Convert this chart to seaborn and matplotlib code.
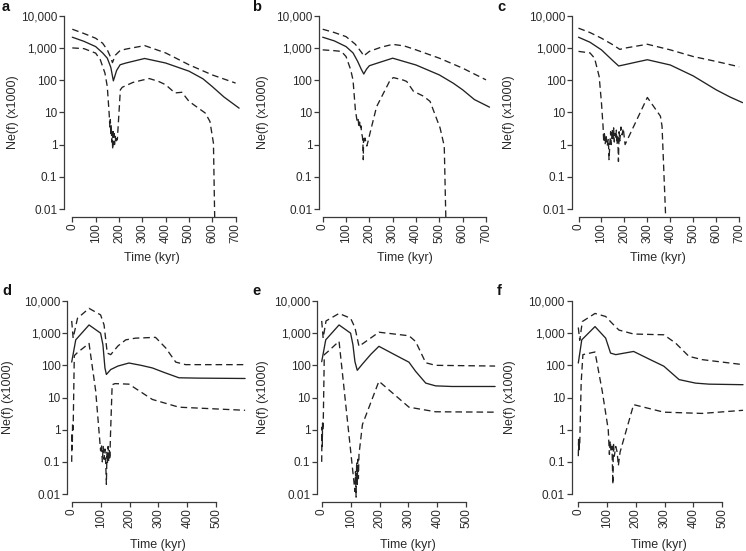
import numpy as np
import pandas as pd
import matplotlib
matplotlib.use("Agg")
import matplotlib.pyplot as plt
from matplotlib.ticker import FixedLocator, NullLocator, FixedFormatter
import seaborn as sns

# ---------------- data (Ne(f) x1000 vs time in kyr) ----------------
a_mid_t = [0, 50, 100, 130, 150, 165, 176, 190, 205, 230, 310, 400, 500, 560, 600, 650, 715]
a_mid = [2150, 1600, 1100, 700, 480, 250, 95, 200, 300, 340, 470, 340, 190, 110, 63, 30, 13.5]
a_hi_t = [0, 50, 100, 130, 150, 165, 172, 185, 205, 230, 310, 400, 500, 600, 700]
a_hi = [3800, 2800, 2000, 1400, 870, 500, 350, 600, 830, 920, 1180, 700, 300, 145, 81]
a_lo_t = [0, 50, 100, 120, 140, 150, 158, 161, 163, 165, 167, 169, 171, 173, 175, 177, 179,
          181, 184, 187, 190, 193, 206, 214, 260, 300, 330, 370, 400, 440, 470, 500, 570,
          590, 605, 612]
a_lo = [1000, 950, 690, 430, 165, 63, 9, 3.5, 6, 2, 4, 1.2, 2.5, 0.7, 3, 1.0, 2.2,
        1.0, 1.8, 1.1, 1.5, 1.4, 50, 60, 85, 100, 112, 91, 72, 40, 42, 22, 9.5,
        5.2, 1.1, 0.001]

b_mid_t = [0, 50, 100, 130, 150, 165, 176, 188, 200, 230, 300, 400, 500, 560, 600, 650, 715]
b_mid = [2150, 1650, 1100, 700, 380, 220, 155, 220, 280, 330, 480, 295, 145, 80, 50, 25, 14.5]
b_hi_t = [0, 50, 100, 140, 168, 175, 200, 250, 300, 350, 400, 500, 600, 700]
b_hi = [3800, 3000, 2240, 1300, 700, 560, 780, 1050, 1290, 1150, 870, 480, 235, 102]
b_lo_t = [0, 50, 80, 100, 120, 130, 140, 148, 152, 155, 158, 161, 164, 167, 170, 172, 174,
          175, 178, 181, 185, 189, 195, 203, 231, 289, 303, 346, 360, 389, 431, 460, 503,
          521, 530]
b_lo = [870, 820, 780, 540, 210, 100, 12, 5, 6, 3.5, 5, 3, 3.8, 2.2, 1.8, 1.3, 0.34,
        1.5, 1.1, 1.6, 1.2, 0.9, 1.3, 2.3, 15, 100, 120, 100, 91, 45, 32, 22, 3.3,
        0.9, 0.001]

c_mid_t = [0, 50, 100, 150, 175, 200, 250, 300, 400, 500, 600, 660, 715]
c_mid = [2150, 1500, 870, 400, 275, 300, 360, 430, 295, 135, 50, 30, 20]
c_hi_t = [0, 50, 100, 150, 180, 200, 300, 400, 500, 600, 700]
c_hi = [4100, 3000, 2000, 1250, 900, 980, 1300, 870, 540, 380, 260]
c_lo_t = [0, 50, 70, 90, 100, 107, 110, 113, 116, 120, 125, 130, 133, 137, 140, 143, 147,
          150, 153, 156, 159, 162, 165, 168, 171, 174, 177, 180, 185, 190, 195, 203, 300,
          357, 364, 384]
c_lo = [780, 700, 480, 130, 20, 3.7, 1.2, 2.5, 1.0, 2.0, 0.9, 1.5, 0.34, 1.2, 2.5, 1.0, 3.0,
        1.4, 3.3, 1.2, 2.2, 1.5, 2.8, 1.0, 2.0, 0.3, 2.5, 1.3, 3.5, 2.0, 3.2, 1.0, 29,
        7.6, 3.7, 0.001]

d_mid_t = [0, 14, 60, 100, 108, 115, 120, 135, 160, 198, 240, 279, 320, 371, 440, 600]
d_mid = [126, 620, 1800, 1000, 440, 83, 52, 74, 95, 118, 100, 83, 60, 41, 40, 39]
d_hi_t = [0, 5, 20, 60, 100, 112, 123, 135, 160, 187, 221, 290, 325, 360, 394, 600]
d_hi = [2400, 700, 2900, 5900, 3700, 1800, 240, 215, 400, 620, 700, 740, 350, 126, 105, 105]
d_lo_t = [0, 1, 2, 3, 5, 9, 20, 60, 83, 100, 103, 106, 109, 112, 115, 118, 120, 122, 124,
          126, 128, 130, 132, 134, 140, 150, 198, 279, 371, 600]
d_lo = [0.1, 0.8, 0.25, 1.5, 1.0, 200, 250, 480, 16, 0.22, 0.35, 0.1, 0.3, 0.12, 0.25, 0.08,
        0.02, 0.2, 0.09, 0.3, 0.1, 0.25, 0.12, 0.6, 25, 27, 26, 8.7, 5, 4]

e_mid_t = [0, 14, 60, 100, 108, 115, 123, 141, 170, 198, 250, 302, 325, 360, 394, 450, 600]
e_mid = [130, 620, 1800, 1000, 440, 130, 70, 110, 220, 390, 220, 125, 65, 28, 23, 22, 22]
e_hi_t = [0, 5, 15, 60, 100, 115, 129, 198, 302, 325, 360, 394, 600]
e_hi = [2400, 700, 2400, 4100, 2900, 1500, 390, 1070, 830, 550, 120, 100, 95]
e_lo_t = [0, 1, 2, 3, 5, 9, 20, 60, 115, 117, 119, 121, 123, 125, 127, 129, 141, 198, 302,
          394, 600]
e_lo = [0.1, 1.2, 0.3, 1.6, 1.0, 215, 260, 560, 0.012, 0.05, 0.008, 0.1, 0.02, 0.12, 0.03,
        0.17, 1.45, 32, 5, 3.6, 3.5]

f_mid_t = [0, 12, 58, 95, 112, 130, 192, 250, 297, 350, 407, 454, 572]
f_mid = [118, 620, 1600, 700, 240, 215, 270, 150, 94, 36, 28, 26, 25]
f_hi_t = [0, 5, 14, 58, 95, 118, 141, 192, 297, 338, 384, 431, 572]
f_hi = [1500, 600, 2300, 4100, 3300, 2000, 1250, 940, 890, 490, 190, 150, 105]
f_lo_t = [0, 1, 2, 3, 5, 10, 16, 58, 83, 104, 108, 111, 114, 117, 120, 122, 125, 130, 135,
          139, 145, 192, 297, 430, 572]
f_lo = [0.15, 0.5, 0.2, 0.4, 0.35, 30, 215, 260, 16, 1.0, 0.17, 0.45, 0.2, 0.3, 0.02, 0.4,
        0.15, 0.3, 0.2, 0.075, 0.2, 6, 3.5, 3.2, 4]

panel_letters = ["a", "b", "c", "d", "e", "f"]
y_ticks = [0.01, 0.1, 1, 10, 100, 1000, 10000]
y_tick_labels = ["0.01", "0.1", "1", "10", "100", "1,000", "10,000"]
x_ticks_top = [0, 100, 200, 300, 400, 500, 600, 700]
x_ticks_bottom = [0, 100, 200, 300, 400, 500]
y_label = "Ne(f) (x1000)"
x_label = "Time (kyr)"

# ---------------- style ----------------
sns.set_style("ticks")
plt.rcParams["font.family"] = ["Liberation Sans", "DejaVu Sans"]
plt.rcParams["lines.dashed_pattern"] = [5.0, 3.0]

W, H = 746, 551
fig = plt.figure(figsize=(W / 100, H / 100), dpi=100)
fig.patch.set_facecolor("white")

LINE = "#222222"
AX = "#3a3a3a"
TXT = "#2a2a2a"

# layout: (left_px, x0_px, px per kyr, right xlim, top_px, bottom_px, ylabel x px, letter x, letter y)
layout = [
    (64.0, 72.3, 0.2333, 722, 8.0, 216.7, 13, 2, 0),
    (319.0, 322.7, 0.2333, 722, 8.0, 216.7, 263, 252, 0),
    (572.3, 578.5, 0.2295, 716, 8.0, 216.7, 509, 497, 0),
    (67.3, 71.7, 0.289, 610, 293.3, 501.7, 8, 2, 284),
    (317.3, 321.7, 0.289, 610, 293.3, 501.7, 263, 252, 284),
    (571.7, 578.3, 0.288, 585, 293.3, 501.7, 510, 497, 284),
]

series = [
    (a_mid_t, a_mid, a_hi_t, a_hi, a_lo_t, a_lo),
    (b_mid_t, b_mid, b_hi_t, b_hi, b_lo_t, b_lo),
    (c_mid_t, c_mid, c_hi_t, c_hi, c_lo_t, c_lo),
    (d_mid_t, d_mid, d_hi_t, d_hi, d_lo_t, d_lo),
    (e_mid_t, e_mid, e_hi_t, e_hi, e_lo_t, e_lo),
    (f_mid_t, f_mid, f_hi_t, f_hi, f_lo_t, f_lo),
]

ylo = 10 ** -2.239
yhi = 10 ** 4.239

for i, (lay, ser) in enumerate(zip(layout, series)):
    left, x0, s, xr, top, bot, ylx, lx, ly = lay
    right = x0 + xr * s
    ax = fig.add_axes([left / W, 1 - bot / H, (right - left) / W, (bot - top) / H])
    ax.set_facecolor("none")
    mt, mv, ht, hv, lt, lv = ser
    rows = []
    for name, tt, vv in (("mid", mt, mv), ("hi", ht, hv), ("lo", lt, lv)):
        rows.append(pd.DataFrame({"t": tt, "v": vv, "s": name}))
    df = pd.concat(rows, ignore_index=True)
    for name, ls in (("mid", "-"), ("hi", "--"), ("lo", "--")):
        sub = df[df["s"] == name]
        sns.lineplot(data=sub, x="t", y="v", ax=ax, color=LINE, linewidth=0.95,
                     linestyle=ls, sort=False, estimator=None)
    ax.set_yscale("log")
    xl = -(x0 - left) / s
    ax.set_xlim(xl, xr)
    ax.set_ylim(ylo, yhi)
    xt = x_ticks_top if i < 3 else x_ticks_bottom
    ax.xaxis.set_major_locator(FixedLocator(xt))
    ax.xaxis.set_minor_locator(NullLocator())
    ax.yaxis.set_major_locator(FixedLocator(y_ticks))
    ax.yaxis.set_major_formatter(FixedFormatter(y_tick_labels))
    ax.yaxis.set_minor_locator(NullLocator())
    for sp in ("top", "right"):
        ax.spines[sp].set_visible(False)
    for sp in ("left", "bottom"):
        ax.spines[sp].set_color(AX)
        ax.spines[sp].set_linewidth(0.9)
    ax.spines["left"].set_bounds(0.01, 10000)
    ax.spines["bottom"].set_bounds(xt[0], xt[-1])
    ax.tick_params(axis="both", direction="out", length=3.4, width=0.9, color=AX,
                   labelcolor=TXT, labelsize=8.5, pad=1.5)
    ax.tick_params(axis="x", labelrotation=90, pad=1.5)
    ax.set_xlabel(x_label, fontsize=9, color=TXT)
    ax.set_ylabel(y_label, fontsize=9, color=TXT)
    ax.xaxis.label.set_va("center")
    ax.yaxis.label.set_va("center")
    xlab_y = 258 if i < 3 else 545
    ax.xaxis.set_label_coords(0.5, (bot - xlab_y) / (bot - top))
    ax.yaxis.set_label_coords((ylx - left) / (right - left), 0.5)
    fig.text(lx / W, 1 - ly / H, panel_letters[i], fontsize=10.5, fontweight="bold",
             color="#111111", ha="left", va="top")

fig.savefig("out.png", dpi=100, facecolor="white")
